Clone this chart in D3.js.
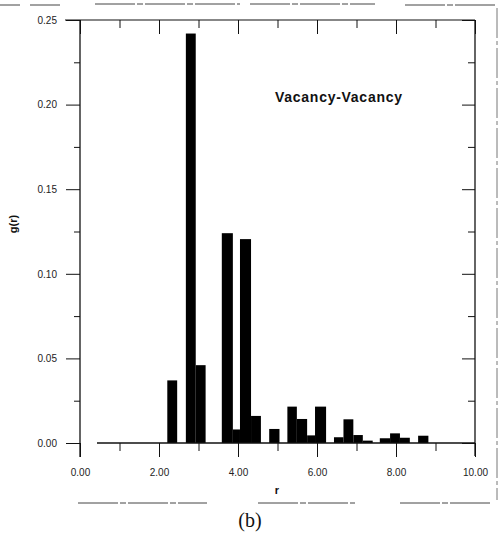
<!DOCTYPE html>
<html>
<head>
<meta charset="utf-8">
<script src="https://cdn.jsdelivr.net/npm/d3@7"></script>
<style>
  html, body { margin: 0; padding: 0; background: #fff; }
  svg { display: block; }
  .tick text { font-family: "Liberation Sans", Arial, sans-serif; font-size: 10px; fill: #222; }
</style>
</head>
<body>
<svg id="chart" width="499" height="533"></svg>
<script>
// Vacancy-vacancy pair distribution g(r): histogram bins (left edge, right edge) and heights
const binStart = [2.21, 2.68, 2.93, 3.59, 3.87, 4.05, 4.33, 4.79, 5.25, 5.49, 5.75, 5.95, 6.43, 6.67, 6.92, 7.16, 7.59, 7.85, 8.10, 8.56];
const binEnd   = [2.46, 2.93, 3.18, 3.87, 4.05, 4.33, 4.58, 5.05, 5.49, 5.75, 5.95, 6.23, 6.67, 6.92, 7.16, 7.41, 7.85, 8.10, 8.35, 8.82];
const gValues  = [0.037, 0.242, 0.046, 0.124, 0.008, 0.1205, 0.016, 0.0083, 0.0215, 0.0142, 0.0045, 0.0215, 0.0034, 0.014, 0.0047, 0.0014, 0.0028, 0.0057, 0.0031, 0.0043];

const xMajorTicks = [0, 2, 4, 6, 8, 10];
const xAllTicks   = [0, 1, 2, 3, 4, 5, 6, 7, 8, 9, 10];
const yMajorTicks = [0, 0.05, 0.10, 0.15, 0.20, 0.25];
const yAllTicks   = [0, 0.025, 0.05, 0.075, 0.10, 0.125, 0.15, 0.175, 0.20, 0.225, 0.25];

(function () {
  const svg = d3.select("#chart");
  const x = d3.scaleLinear().domain([0, 10]).range([80, 475]);
  const y = d3.scaleLinear().domain([0, 0.25]).range([443, 20]);

  const fmt = d3.format(".2f");
  const isMajorX = v => xMajorTicks.includes(v);
  const isMajorY = v => yMajorTicks.some(m => Math.abs(m - v) < 1e-9);

  // figure frame rules around the panel
  const rule = svg.append("g").attr("stroke", "#444").attr("stroke-width", 1).attr("fill", "none");
  [[0, 20, 5], [30, 60, 5], [95, 240, 4], [250, 375, 4], [405, 495, 5],
   [78, 207, 503], [258, 355, 503], [400, 490, 503]].forEach(([a, b, yy]) => {
    rule.append("line").attr("x1", a).attr("x2", b).attr("y1", yy).attr("y2", yy)
      .attr("stroke-dasharray", "40,2,6,2");
  });
  rule.append("line").attr("x1", 497).attr("x2", 497).attr("y1", 8).attr("y2", 500)
    .attr("stroke", "#777").attr("stroke-dasharray", "30,3,4,3");

  // bars
  svg.append("g").selectAll("rect")
    .data(gValues)
    .join("rect")
    .attr("x", (d, i) => x(binStart[i]))
    .attr("width", (d, i) => x(binEnd[i]) - x(binStart[i]))
    .attr("y", d => y(d))
    .attr("height", d => y(0) - y(d))
    .attr("fill", "#000");

  // bottom axis (outward ticks, labels on even values)
  const axB = svg.append("g").attr("transform", `translate(0,${y(0)})`)
    .call(d3.axisBottom(x).tickValues(xAllTicks).tickSizeOuter(0)
      .tickFormat(v => isMajorX(v) ? fmt(v) : ""));
  axB.select(".domain").remove();
  axB.selectAll(".tick line").attr("y2", d => isMajorX(d) ? 14 : 8).attr("stroke", "#111");
  axB.selectAll(".tick text").attr("y", 26);
  svg.append("line").attr("x1", x(0.43)).attr("x2", x(10)).attr("y1", y(0)).attr("y2", y(0))
    .attr("stroke", "#111").attr("stroke-width", 1.3);

  // top axis (inward ticks)
  const axT = svg.append("g").attr("transform", `translate(0,${y(0.25)})`)
    .call(d3.axisTop(x).tickValues(xAllTicks).tickSizeOuter(0).tickFormat(""));
  axT.select(".domain").remove();
  axT.selectAll(".tick line").attr("y2", d => isMajorX(d) ? 14 : 8).attr("stroke", "#111");
  svg.append("line").attr("x1", 65).attr("x2", x(10)).attr("y1", y(0.25)).attr("y2", y(0.25))
    .attr("stroke", "#111").attr("stroke-width", 1.2);

  // left axis (outward ticks)
  const axL = svg.append("g").attr("transform", `translate(${x(0)},0)`)
    .call(d3.axisLeft(y).tickValues(yAllTicks).tickSizeOuter(0)
      .tickFormat(v => isMajorY(v) ? fmt(v) : ""));
  axL.select(".domain").remove();
  axL.selectAll(".tick line").attr("x2", d => isMajorY(d) ? -14 : -6).attr("stroke", "#111");
  axL.selectAll(".tick text").attr("x", -23);
  svg.append("line").attr("x1", x(0)).attr("x2", x(0)).attr("y1", y(0.25)).attr("y2", 457)
    .attr("stroke", "#111").attr("stroke-width", 1.3);

  // right axis (inward ticks)
  const axR = svg.append("g").attr("transform", `translate(${x(10)},0)`)
    .call(d3.axisRight(y).tickValues(yAllTicks).tickSizeOuter(0).tickFormat(""));
  axR.select(".domain").remove();
  axR.selectAll(".tick line").attr("x2", d => isMajorY(d) ? -13 : -7).attr("stroke", "#111");
  svg.append("line").attr("x1", x(10)).attr("x2", x(10)).attr("y1", y(0.25)).attr("y2", 456)
    .attr("stroke", "#111").attr("stroke-width", 1.3);

  // labels
  svg.append("text").attr("x", 277).attr("y", 494).attr("text-anchor", "middle")
    .style("font-family", "Liberation Sans, Arial, sans-serif").style("font-size", "11px")
    .style("font-weight", "bold").attr("fill", "#111").text("r");

  svg.append("text").attr("transform", "translate(17,224) rotate(-90)").attr("text-anchor", "middle")
    .style("font-family", "Liberation Sans, Arial, sans-serif").style("font-size", "11px")
    .style("font-weight", "bold").attr("fill", "#111").text("g(r)");

  svg.append("text").attr("x", 275).attr("y", 102)
    .attr("textLength", 127).attr("lengthAdjust", "spacing")
    .style("font-family", "Liberation Sans, Arial, sans-serif").style("font-size", "14px")
    .style("font-weight", "bold").attr("fill", "#111").text("Vacancy-Vacancy");

  svg.append("text").attr("x", 250).attr("y", 527).attr("text-anchor", "middle")
    .style("font-family", "Liberation Serif, Times New Roman, serif").style("font-size", "20px")
    .attr("fill", "#111").text("(b)");
})();
</script>
</body>
</html>
